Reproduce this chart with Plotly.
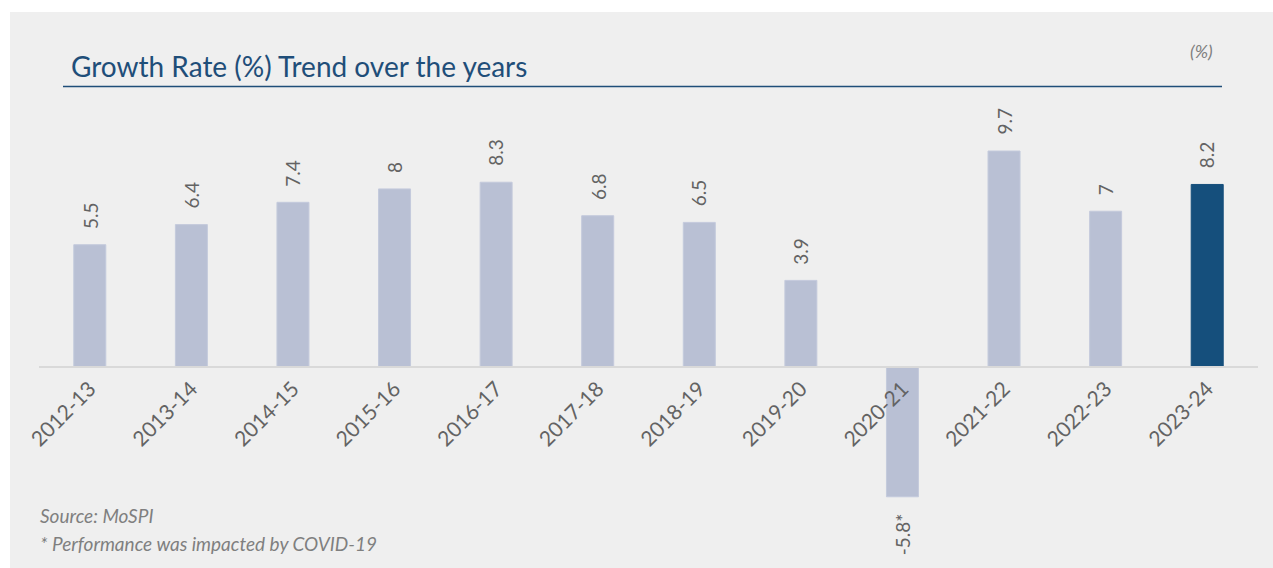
import plotly.graph_objects as go

# ---- data ----
years = ["2012-13", "2013-14", "2014-15", "2015-16", "2016-17", "2017-18",
         "2018-19", "2019-20", "2020-21", "2021-22", "2022-23", "2023-24"]
growth = [5.5, 6.4, 7.4, 8.0, 8.3, 6.8, 6.5, 3.9, -5.8, 9.7, 7.0, 8.2]
value_labels = ["5.5", "6.4", "7.4", "8", "8.3", "6.8", "6.5", "3.9", "-5.8*", "9.7", "7", "8.2"]
title_text = "Growth Rate (%) Trend over the years"
unit_text = "(%)"
footnotes = ["Source: MoSPI", "* Performance was impacted by COVID-19"]

# ---- layout geometry ----
W, H = 1273, 568
ML, MR, MT, MB = 39, 15, 122, 11
PW, PH = W - ML - MR, H - MT - MB
Y_MIN, Y_MAX = -8.5, 11.0

def px(x):
    return (x - ML) / PW

def py(y):
    return (H - MB - y) / PH

LIGHT = "#B9C0D4"
DARK = "#154F7C"
TITLE_C = "#1F4E79"
LABEL_C = "#636363"
FONT = "Lato"

colors = [LIGHT] * (len(years) - 1) + [DARK]
line_colors = ["#C4CADC"] * (len(years) - 1) + [DARK]

fig = go.Figure()
fig.add_trace(go.Bar(
    x=years, y=growth,
    marker=dict(color=colors, line=dict(color=line_colors, width=1)),
    hoverinfo="skip",
))

annotations = []
for yr, v, lab in zip(years, growth, value_labels):
    annotations.append(dict(
        x=yr, y=v, xref="x", yref="y", text=lab, showarrow=False,
        textangle=-90, font=dict(family=FONT, size=19, color=LABEL_C),
        xanchor="center", yanchor="bottom" if v >= 0 else "top",
        yshift=14 if v >= 0 else -14,
    ))

annotations.append(dict(
    x=px(69), y=py(66), xref="paper", yref="paper", text=title_text,
    showarrow=False, xanchor="left", yanchor="middle",
    font=dict(family=FONT, size=28, color=TITLE_C),
))
annotations.append(dict(
    x=px(1215), y=py(51), xref="paper", yref="paper", text="<i>" + unit_text + "</i>",
    showarrow=False, xanchor="right", yanchor="middle",
    font=dict(family=FONT, size=18, color="#7F7F7F"),
))
for i, t in enumerate(footnotes):
    annotations.append(dict(
        x=px(38), y=py(515 + 28 * i), xref="paper", yref="paper", text="<i>" + t + "</i>",
        showarrow=False, xanchor="left", yanchor="middle",
        font=dict(family=FONT, size=19, color="#7F7F7F"),
    ))

shapes = [
    dict(type="rect", xref="paper", yref="paper", x0=px(0), x1=px(W), y0=py(0), y1=py(12),
         fillcolor="white", line=dict(width=0), layer="below"),
    dict(type="rect", xref="paper", yref="paper", x0=px(0), x1=px(10), y0=py(0), y1=py(H),
         fillcolor="white", line=dict(width=0), layer="below"),
    dict(type="line", xref="paper", yref="paper", x0=px(63), x1=px(1222), y0=py(86.5), y1=py(86.5),
         line=dict(color=TITLE_C, width=1.5)),
]

zero_pos = (0 - Y_MIN) / (Y_MAX - Y_MIN)

fig.update_layout(
    width=W, height=H,
    margin=dict(l=ML, r=MR, t=MT, b=MB),
    paper_bgcolor="#EFEFEF", plot_bgcolor="rgba(0,0,0,0)",
    bargap=0.685, showlegend=False,
    annotations=annotations, shapes=shapes,
    font=dict(family=FONT, color=LABEL_C),
    xaxis=dict(
        anchor="free", position=zero_pos, showline=True, linecolor="#D9D9D9", linewidth=2,
        tickangle=-45, ticks="", tickfont=dict(family=FONT, size=21, color=LABEL_C),
        showgrid=False, zeroline=False, range=[-0.5, len(years) - 0.5],
    ),
    yaxis=dict(range=[Y_MIN, Y_MAX], visible=False, showgrid=False, zeroline=False),
)

fig.write_html("out.html")
